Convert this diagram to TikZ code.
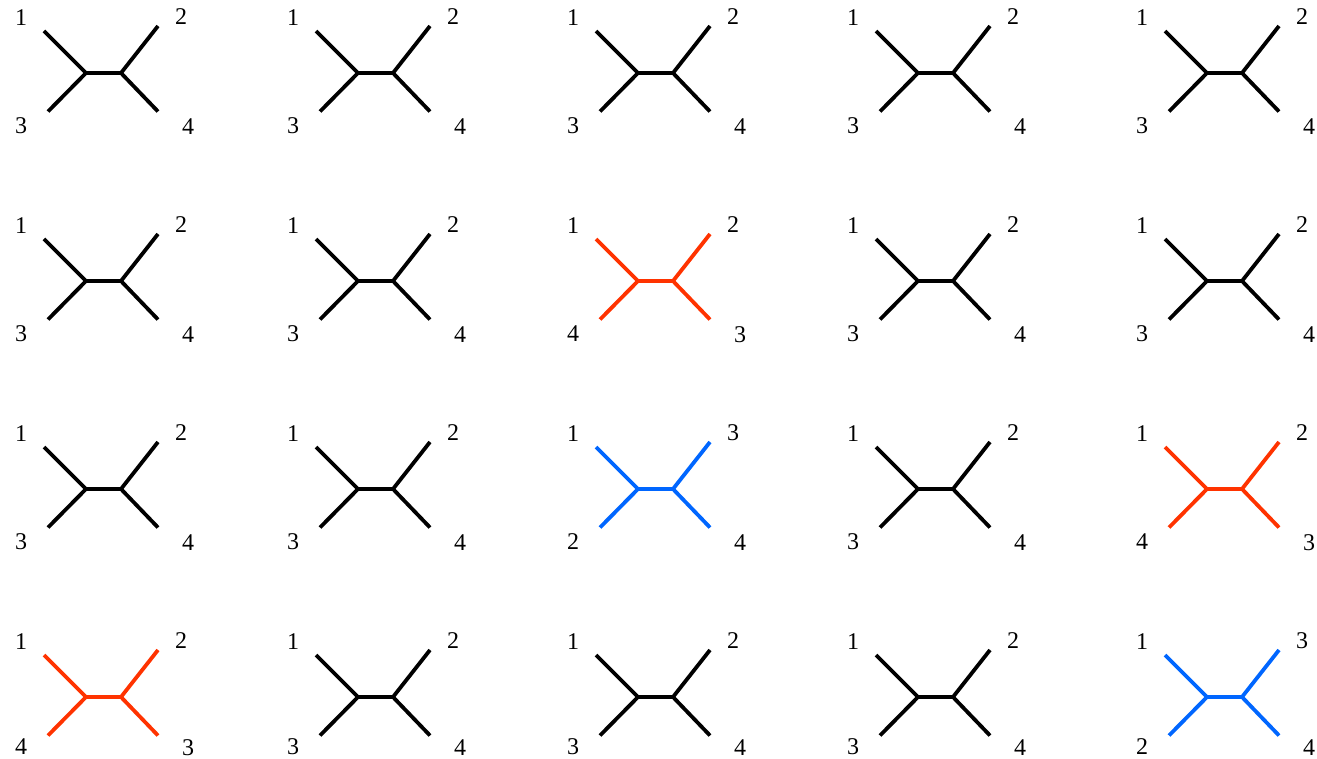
\documentclass[tikz,border=0pt]{standalone}
\usepackage{fontspec}
\setmainfont{Liberation Serif}
\usetikzlibrary{calc}
\definecolor{tred}{HTML}{FF3300}
\definecolor{tblue}{HTML}{0066FF}
\tikzset{
  x=1pt, y=-1pt,
  edge/.style={line width=3.8pt, line cap=butt, line join=round},
  lbl/.style={inner sep=0pt, font=\fontsize{24}{24}\selectfont}
}
\def\lowdy{53}
% \qtree{name}{x}{y}{colour}{UL}{UR}{LL}{LR}
\newcommand{\qtree}[8]{%
  \coordinate (#1L) at (#2,#3);
  \coordinate (#1R) at ($(#1L)+(35,0)$);
  \coordinate (#1ul) at ($(#1L)+(-42,-42)$);
  \coordinate (#1ll) at ($(#1L)+(-38,38.5)$);
  \coordinate (#1ur) at ($(#1L)+(72,-47)$);
  \coordinate (#1lr) at ($(#1L)+(72,38.5)$);
  \draw[edge,#4] (#1ul) -- (#1L) -- (#1R) -- (#1ur);
  \draw[edge,#4] (#1ll) -- (#1L);
  \draw[edge,#4] (#1lr) -- (#1R);
  \node[lbl] (#1a) at ($(#1L)+(-65,-55)$) {#5};
  \node[lbl] (#1b) at ($(#1L)+(95,-56)$) {#6};
  \node[lbl] (#1c) at ($(#1L)+(-65,\lowdy)$) {#7};
  \node[lbl] (#1d) at ($(#1L)+(102,\lowdy+1)$) {#8};
}
\begin{document}
\begin{tikzpicture}
\useasboundingbox (0,0) rectangle (1317,759);
% row 1
\qtree{t11}{86}{73}{black}{1}{2}{3}{4}
\qtree{t12}{358}{73}{black}{1}{2}{3}{4}
\qtree{t13}{638}{73}{black}{1}{2}{3}{4}
\qtree{t14}{918}{73}{black}{1}{2}{3}{4}
\qtree{t15}{1207}{73}{black}{1}{2}{3}{4}
% row 2
\qtree{t21}{86}{281}{black}{1}{2}{3}{4}
\qtree{t22}{358}{281}{black}{1}{2}{3}{4}
\qtree{t23}{638}{281}{tred}{1}{2}{4}{3}
\qtree{t24}{918}{281}{black}{1}{2}{3}{4}
\qtree{t25}{1207}{281}{black}{1}{2}{3}{4}
% row 3
\qtree{t31}{86}{489}{black}{1}{2}{3}{4}
\qtree{t32}{358}{489}{black}{1}{2}{3}{4}
\qtree{t33}{638}{489}{tblue}{1}{3}{2}{4}
\qtree{t34}{918}{489}{black}{1}{2}{3}{4}
\qtree{t35}{1207}{489}{tred}{1}{2}{4}{3}
% row 4
\def\lowdy{49.5}
\qtree{t41}{86}{697}{tred}{1}{2}{4}{3}
\qtree{t42}{358}{697}{black}{1}{2}{3}{4}
\qtree{t43}{638}{697}{black}{1}{2}{3}{4}
\qtree{t44}{918}{697}{black}{1}{2}{3}{4}
\qtree{t45}{1207}{697}{tblue}{1}{3}{2}{4}
\end{tikzpicture}
\end{document}
